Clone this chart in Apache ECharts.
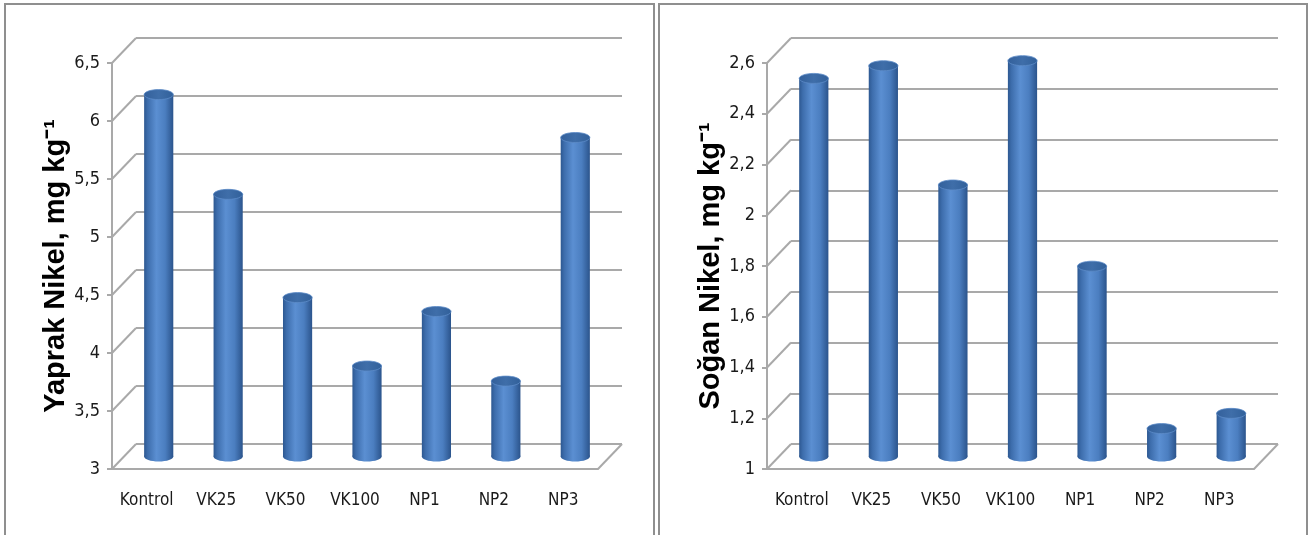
<!DOCTYPE html>
<html><head><meta charset="utf-8">
<script src="https://cdn.jsdelivr.net/npm/echarts@6/dist/echarts.min.js"></script>
<style>html,body{margin:0;padding:0;background:#fff}#c{width:1309px;height:535px}</style>
</head><body><div id="c"></div>
<script>
const categories = ['Kontrol', 'VK25', 'VK50', 'VK100', 'NP1', 'NP2', 'NP3'];
const leafNickel = [6.12, 5.26, 4.37, 3.78, 4.25, 3.65, 5.75];
const bulbNickel = [2.49, 2.54, 2.07, 2.56, 1.75, 1.11, 1.17];
const leafTicks = [3, 3.5, 4, 4.5, 5, 5.5, 6, 6.5];
const bulbTicks = [1, 1.2, 1.4, 1.6, 1.8, 2, 2.2, 2.4, 2.6];
const leafTitle = 'Yaprak Nikel, mg kg⁻¹';
const bulbTitle = 'Soğan Nikel, mg kg⁻¹';

const DX = 24, DY = 25;
const GRID_C = '#a9a9a9';
const NARROW = "'Liberation Sans Narrow', 'DejaVu Sans Condensed', sans-serif";

const panels = [
  {left: 112, top: 63, width: 486, height: 406, values: leafNickel, ticks: leafTicks, title: leafTitle},
  {left: 767, top: 63, width: 487, height: 406, values: bulbNickel, ticks: bulbTicks, title: bulbTitle}
];

const grid = [], xAxis = [], yAxis = [], series = [];

function fmt(v) { return String(Math.round(v * 10) / 10).replace('.', ','); }

panels.forEach(function (p, k) {
  const minV = p.ticks[0], maxV = p.ticks[p.ticks.length - 1];
  const interval = Math.round((p.ticks[1] - p.ticks[0]) * 100) / 100;
  const g0 = grid.length;
  [[0, 0], [DX / 2, -DY / 2], [DX, -DY]].forEach(function (o) {
    grid.push({left: p.left + o[0], top: p.top + o[1], width: p.width, height: p.height, containLabel: false});
  });
  xAxis.push({type: 'category', gridIndex: g0, data: categories,
    axisLine: {show: true, lineStyle: {color: GRID_C, width: 2}},
    axisTick: {show: false},
    axisLabel: {interval: 0, hideOverlap: false, margin: 23, fontSize: 17, fontFamily: NARROW, color: '#1a1a1a'}});
  yAxis.push({type: 'value', gridIndex: g0, min: minV, max: maxV, interval: interval,
    axisLine: {show: true, lineStyle: {color: GRID_C, width: 2}},
    axisTick: {show: true, length: 5, lineStyle: {color: GRID_C, width: 2}},
    axisLabel: {margin: 12, fontSize: 18, fontFamily: NARROW, color: '#1a1a1a', formatter: fmt},
    splitLine: {show: false},
    name: p.title, nameLocation: 'middle', nameGap: 40,
    nameTextStyle: {fontSize: 29, fontWeight: 'bold', fontFamily: "'Liberation Sans', Arial, sans-serif", color: '#000'}});
  xAxis.push({type: 'category', gridIndex: g0 + 1, data: categories, show: false});
  yAxis.push({type: 'value', gridIndex: g0 + 1, min: minV, max: maxV, interval: interval, show: false});
  xAxis.push({type: 'category', gridIndex: g0 + 2, data: categories, axisLine: {show: false}, axisTick: {show: false}, axisLabel: {show: false}});
  yAxis.push({type: 'value', gridIndex: g0 + 2, min: minV, max: maxV, interval: interval,
    axisLine: {show: false}, axisTick: {show: false}, axisLabel: {show: false},
    splitLine: {show: true, lineStyle: {color: GRID_C, width: 2}}});

  series.push({
    type: 'custom', xAxisIndex: g0, yAxisIndex: g0, silent: true, z: 1,
    data: p.ticks.map(function (v) { return [0, v]; }),
    renderItem: function (params, api) {
      const cs = params.coordSys;
      const v = api.value(1);
      const y = api.coord([0, v])[1];
      const children = [{type: 'line', shape: {x1: cs.x, y1: y, x2: cs.x + DX, y2: y - DY},
        style: {stroke: GRID_C, lineWidth: 2}}];
      if (v === minV) {
        children.push({type: 'line', shape: {x1: cs.x + cs.width, y1: y, x2: cs.x + cs.width + DX, y2: y - DY},
          style: {stroke: GRID_C, lineWidth: 2}});
      }
      return {type: 'group', children: children};
    }
  });

  series.push({
    type: 'custom', xAxisIndex: g0 + 1, yAxisIndex: g0 + 1, z: 5,
    data: p.values.map(function (v, i) { return [i, v]; }),
    renderItem: function (params, api) {
      const i = api.value(0), val = api.value(1);
      const top = api.coord([i, val]);
      const base = api.coord([i, minV]);
      const w = api.size([1, 0])[0] * 0.42;
      const rx = w / 2, ry = 5;
      const body = new echarts.graphic.LinearGradient(0, 0, 1, 0, [
        {offset: 0, color: '#2d5891'}, {offset: 0.12, color: '#3d6dac'},
        {offset: 0.42, color: '#5b8fd2'}, {offset: 0.72, color: '#4b7ec0'},
        {offset: 1, color: '#2b548c'}]);
      const cap = new echarts.graphic.LinearGradient(0, 0, 1, 0, [
        {offset: 0, color: '#33609b'}, {offset: 0.5, color: '#3f6ea9'}, {offset: 1, color: '#31609a'}]);
      return {type: 'group', children: [
        {type: 'ellipse', shape: {cx: base[0], cy: base[1], rx: rx, ry: ry}, style: {fill: body}},
        {type: 'rect', shape: {x: top[0] - rx, y: top[1], width: w, height: base[1] - top[1]}, style: {fill: body}},
        {type: 'ellipse', shape: {cx: top[0], cy: top[1], rx: rx, ry: ry}, style: {fill: cap, stroke: '#5d8cc8', lineWidth: 0.8}}
      ]};
    }
  });
});

const chart = echarts.init(document.getElementById('c'));
chart.setOption({
  animation: false,
  backgroundColor: '#fff',
  grid: grid, xAxis: xAxis, yAxis: yAxis, series: series,
  graphic: [
    {type: 'rect', shape: {x: 5, y: 4, width: 649, height: 560}, style: {fill: 'none', stroke: '#8f8f8f', lineWidth: 2}, silent: true},
    {type: 'rect', shape: {x: 659, y: 4, width: 648, height: 560}, style: {fill: 'none', stroke: '#8f8f8f', lineWidth: 2}, silent: true}
  ]
});
</script></body></html>
